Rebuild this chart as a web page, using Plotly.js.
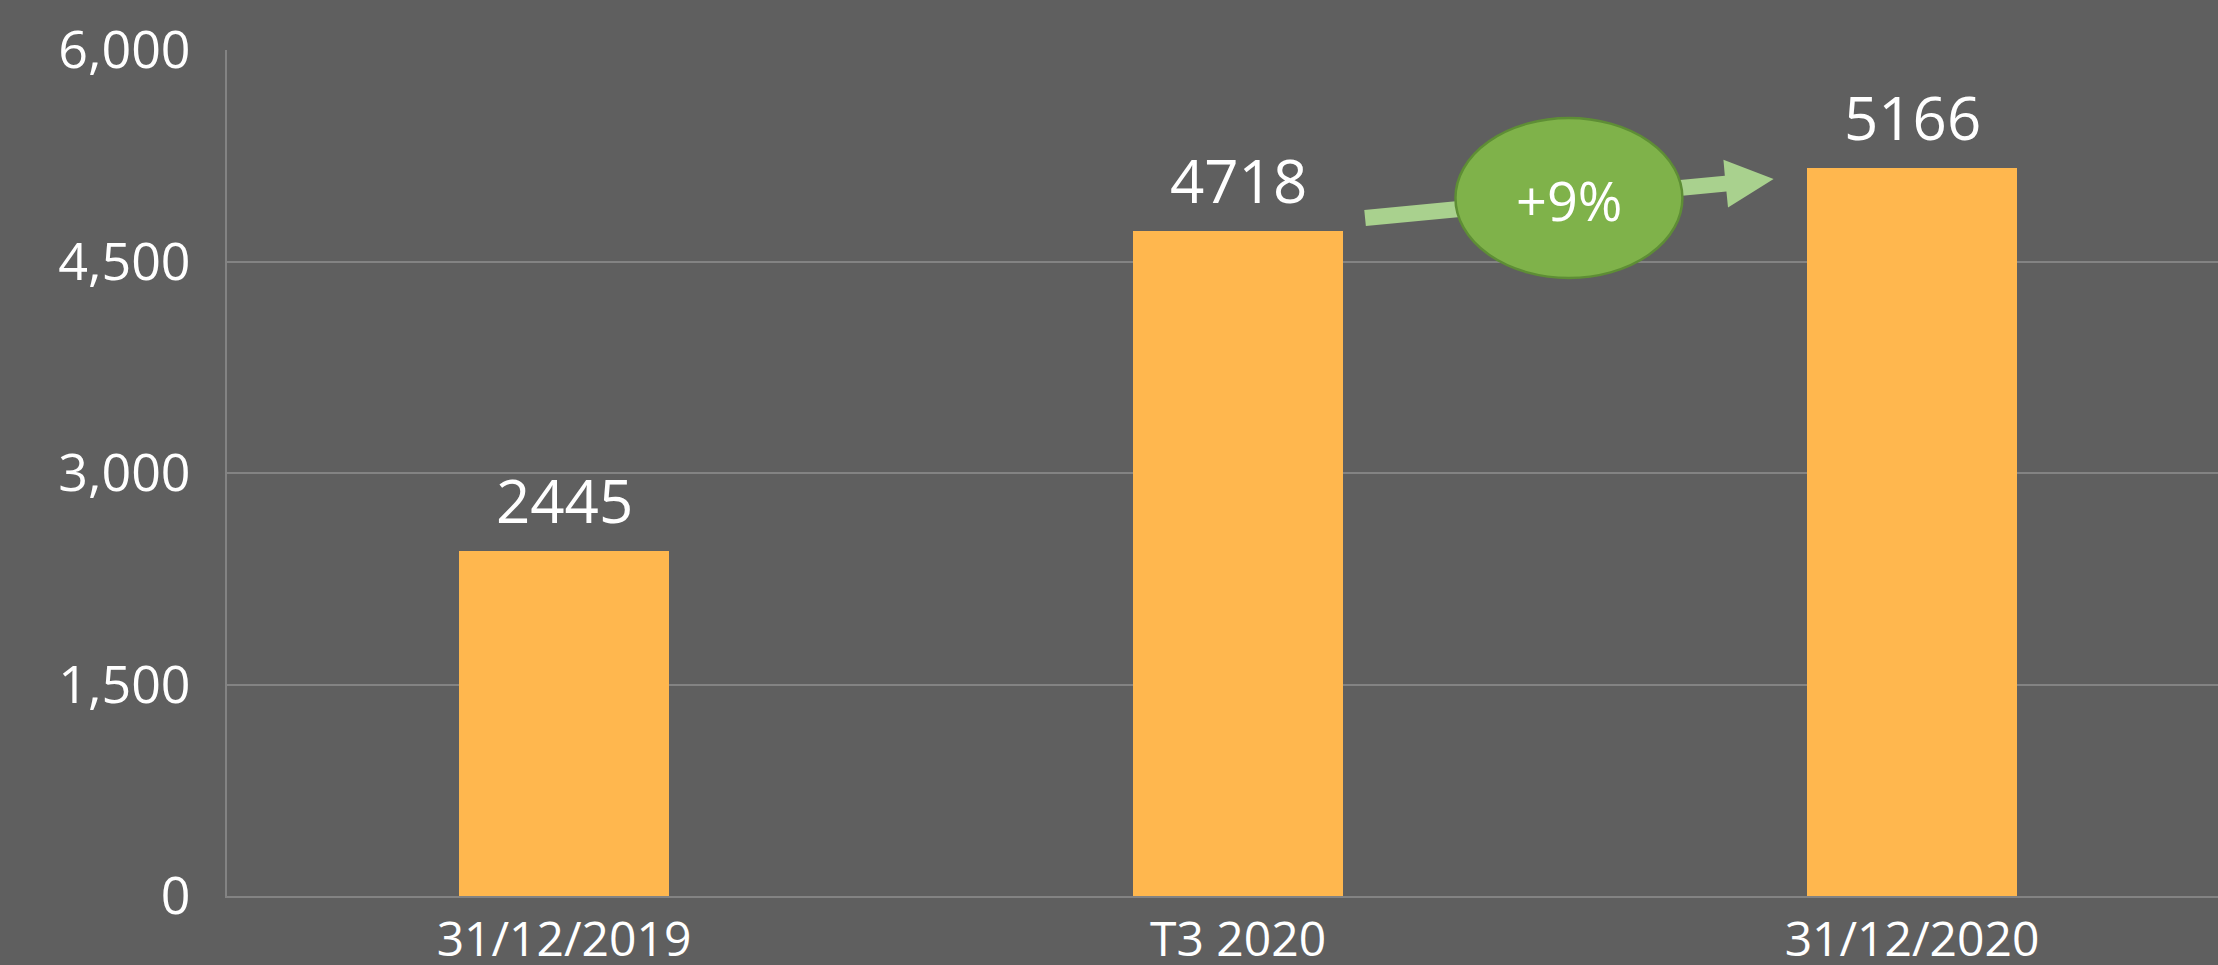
<!DOCTYPE html>
<html>
<head>
<meta charset="utf-8">
<script src="https://cdn.plot.ly/plotly-3.0.1.min.js"></script>
<style>
  html, body { margin: 0; padding: 0; background: #5f5f5f; }
  #chart { width: 2218px; height: 965px; }
</style>
</head>
<body>
<div id="chart"></div>
<script>
// ---- data ----
const categories = ["31/12/2019", "T3 2020", "31/12/2020"];
const values = [2445, 4718, 5166];
const growthLabel = "+9%";
const yTickVals = [0, 1500, 3000, 4500, 6000];

// ---- styles ----
const BG = "#5f5f5f";
const BAR = "#FFB74E";
const GRID = "#838383";
const FONT = "Open Sans, Noto Sans, DejaVu Sans, sans-serif";

const trace = {
  type: "bar",
  x: categories,
  y: values,
  width: 0.313,
  marker: { color: BAR, line: { width: 0 } },
  hoverinfo: "skip"
};

const valueAnnotations = categories.map((c, i) => ({
  x: c, y: values[i], xref: "x", yref: "y",
  text: String(values[i]),
  showarrow: false,
  yanchor: "bottom",
  yshift: 8,
  font: { family: FONT, size: 60, color: "#ffffff", weight: 500 }
}));

// decorative growth arrow + ellipse (paper coords)
const arrowPath = "M 0.5720 0.7920 L 0.5712 0.8109 L 0.7523 0.8515 L 0.7516 0.8703 " +
                  "L 0.7768 0.8475 L 0.7539 0.8138 L 0.7531 0.8326 Z";

const layout = {
  width: 2218,
  height: 965,
  paper_bgcolor: BG,
  plot_bgcolor: BG,
  margin: { l: 227, r: 0, t: 50, b: 69 },
  showlegend: false,
  bargap: 0,
  xaxis: {
    type: "category",
    range: [-0.5, 2.454],
    showgrid: false,
    showline: true,
    linecolor: GRID,
    linewidth: 2,
    ticks: "",
    ticklabelstandoff: 0,
    tickfont: { family: FONT, size: 48, color: "#ffffff" },
    fixedrange: true
  },
  yaxis: {
    range: [0, 6000],
    tickvals: yTickVals,
    tickformat: ",d",
    showgrid: true,
    gridcolor: GRID,
    gridwidth: 2,
    zeroline: false,
    showline: true,
    linecolor: GRID,
    linewidth: 2,
    ticks: "",
    ticklabelstandoff: 24,
    tickfont: { family: FONT, size: 52, color: "#ffffff" },
    fixedrange: true
  },
  shapes: [
    {
      type: "path", xref: "paper", yref: "paper", path: arrowPath,
      fillcolor: "#a9d18e", line: { width: 0 }, layer: "above"
    },
    {
      type: "circle", xref: "paper", yref: "paper",
      x0: 0.6170, x1: 0.7310, y0: 0.7305, y1: 0.9196,
      fillcolor: "#7fb24a", line: { color: "#5e8e35", width: 2.5 }, layer: "above"
    }
  ],
  annotations: valueAnnotations.concat([
    {
      x: 0.6740, y: 0.8227, xref: "paper", yref: "paper",
      text: growthLabel, showarrow: false,
      xanchor: "center", yanchor: "middle",
      font: { family: FONT, size: 54, color: "#ffffff" }
    }
  ])
};

Plotly.newPlot("chart", [trace], layout, { displayModeBar: false, staticPlot: true });
</script>
</body>
</html>
